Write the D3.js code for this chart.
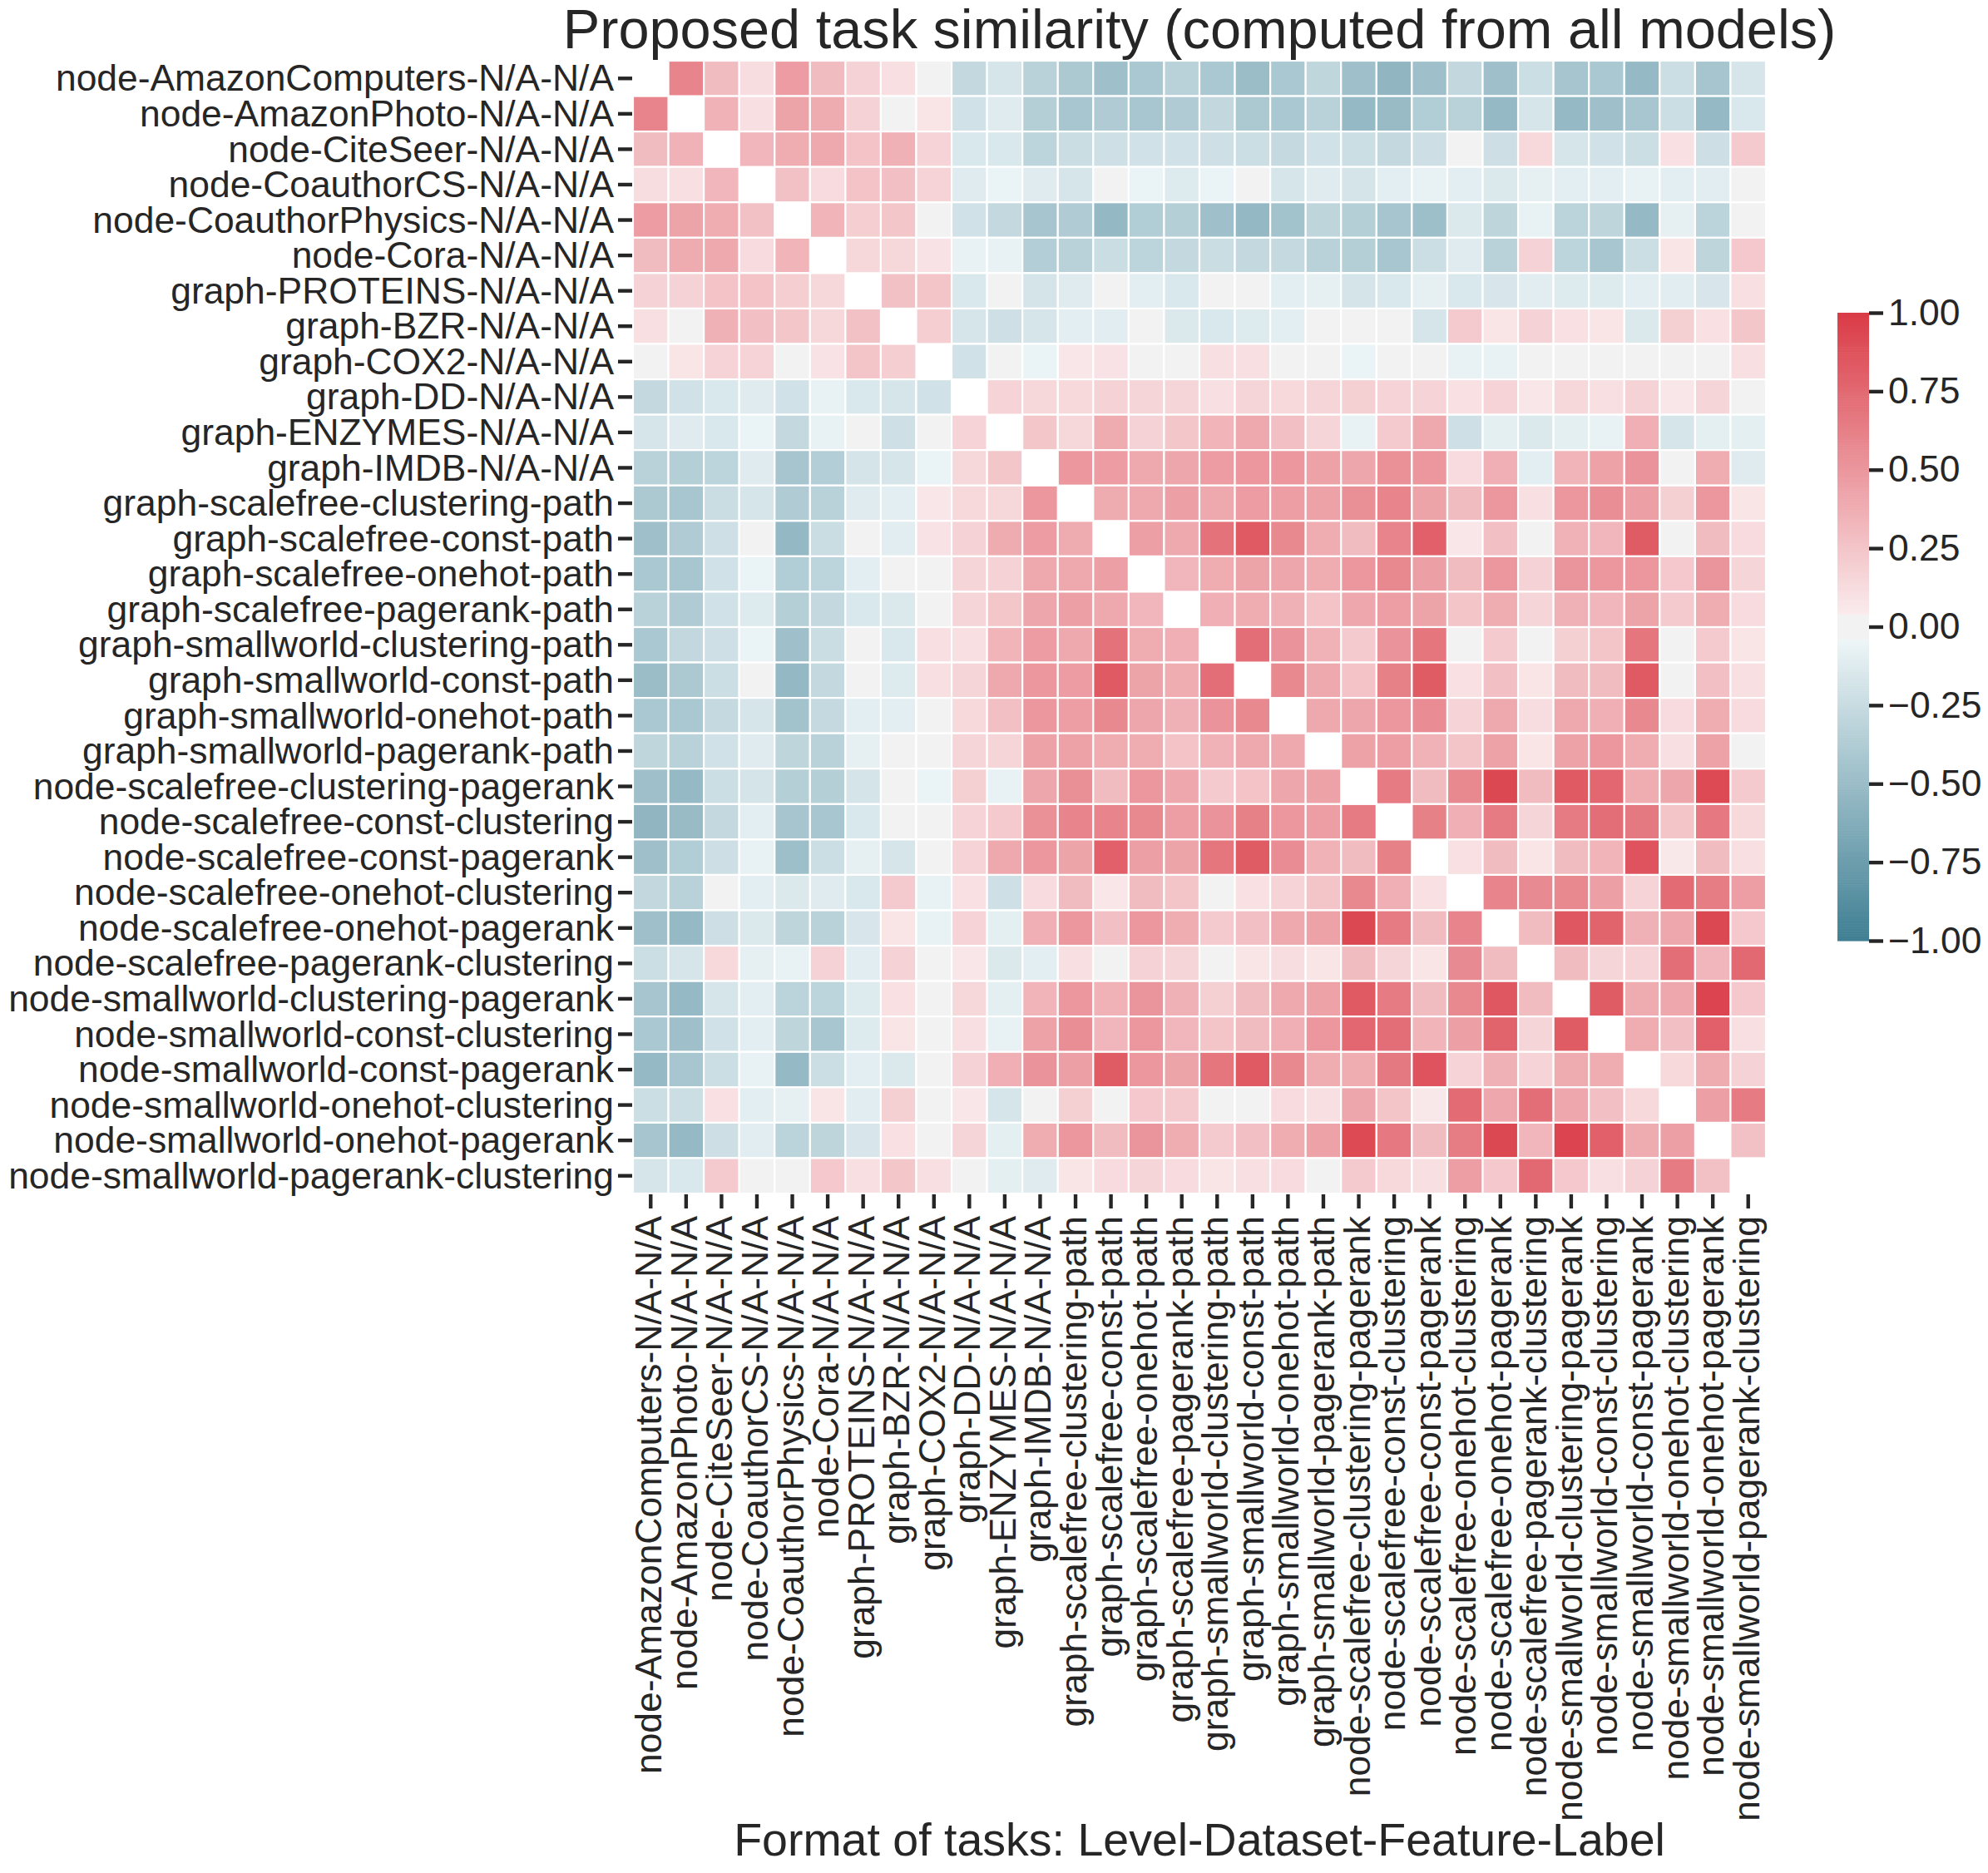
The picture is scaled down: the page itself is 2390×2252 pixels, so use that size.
<!DOCTYPE html>
<html><head><meta charset="utf-8">
<script src="https://cdnjs.cloudflare.com/ajax/libs/d3/7.8.5/d3.min.js"></script>
<style>html,body{margin:0;padding:0;background:#fff}svg{display:block}text{font-family:"Liberation Sans",Arial,sans-serif;fill:#262626}</style>
</head><body><div id="c"></div>
<script>
const titleText="Proposed task similarity (computed from all models)";
const xLabelText="Format of tasks: Level-Dataset-Feature-Label";
const tasks=["node-AmazonComputers-N/A-N/A","node-AmazonPhoto-N/A-N/A","node-CiteSeer-N/A-N/A","node-CoauthorCS-N/A-N/A","node-CoauthorPhysics-N/A-N/A","node-Cora-N/A-N/A","graph-PROTEINS-N/A-N/A","graph-BZR-N/A-N/A","graph-COX2-N/A-N/A","graph-DD-N/A-N/A","graph-ENZYMES-N/A-N/A","graph-IMDB-N/A-N/A","graph-scalefree-clustering-path","graph-scalefree-const-path","graph-scalefree-onehot-path","graph-scalefree-pagerank-path","graph-smallworld-clustering-path","graph-smallworld-const-path","graph-smallworld-onehot-path","graph-smallworld-pagerank-path","node-scalefree-clustering-pagerank","node-scalefree-const-clustering","node-scalefree-const-pagerank","node-scalefree-onehot-clustering","node-scalefree-onehot-pagerank","node-scalefree-pagerank-clustering","node-smallworld-clustering-pagerank","node-smallworld-const-clustering","node-smallworld-const-pagerank","node-smallworld-onehot-clustering","node-smallworld-onehot-pagerank","node-smallworld-pagerank-clustering"];
// Upper triangle of the similarity matrix: each row lists the columns after the diagonal.
const upperRows=[
[.6,.3,.12,.47,.3,.18,.11,0,-.27,-.17,-.33,-.4,-.47,-.41,-.33,-.41,-.5,-.41,-.29,-.47,-.55,-.47,-.28,-.47,-.23,-.43,-.41,-.52,-.23,-.43,-.17],
[.35,.11,.43,.39,.18,0,.08,-.2,-.12,-.35,-.42,-.38,-.42,-.38,-.28,-.4,-.41,-.33,-.52,-.51,-.37,-.33,-.52,-.17,-.52,-.47,-.42,-.23,-.52,-.15],
[.33,.38,.4,.26,.36,.17,-.15,-.15,-.31,-.24,-.21,-.2,-.2,-.21,-.23,-.26,-.2,-.23,-.27,-.22,0,-.22,.14,-.17,-.2,-.23,.1,-.22,.22],
[.27,.13,.26,.28,.17,-.12,-.06,-.12,-.17,0,-.06,-.13,-.06,0,-.17,-.12,-.18,-.1,-.07,-.1,-.14,-.08,-.1,-.1,-.07,-.1,-.11,0],
[.34,.2,.24,0,-.2,-.27,-.43,-.38,-.53,-.37,-.35,-.47,-.53,-.45,-.3,-.35,-.43,-.48,-.14,-.3,-.07,-.32,-.3,-.52,-.08,-.32,0],
[.15,.15,.09,-.07,-.07,-.36,-.33,-.24,-.31,-.27,-.24,-.27,-.26,-.33,-.35,-.42,-.23,-.12,-.33,.18,-.31,-.42,-.23,.08,-.3,.23],
[.27,.25,-.15,0,-.18,-.12,0,-.1,-.15,0,0,-.1,-.08,-.18,-.15,-.08,-.15,-.16,-.11,-.13,-.13,-.1,-.11,-.16,.11],
[.2,-.17,-.21,-.17,-.1,-.11,0,-.14,-.15,-.13,-.1,0,0,0,-.17,.22,.08,.18,.1,.08,-.14,.19,.1,.24],
[-.2,0,-.06,.07,.09,0,0,.11,.11,0,0,-.06,0,0,-.07,-.07,0,0,0,0,0,0,.11],
[.17,.15,.14,.18,.16,.16,.11,.16,.14,.16,.19,.17,.17,.1,.17,.07,.15,.11,.18,.07,.16,0],
[.24,.15,.39,.18,.24,.34,.4,.28,.16,-.07,.22,.4,-.21,-.09,-.14,-.09,-.07,.37,-.17,-.09,-.09],
[.5,.47,.4,.42,.47,.5,.5,.44,.42,.53,.5,.13,.37,-.1,.34,.44,.52,0,.38,-.12],
[.39,.4,.45,.4,.47,.46,.44,.54,.6,.43,.3,.5,.11,.5,.55,.45,.19,.5,.08],
[.45,.4,.7,.83,.58,.38,.3,.6,.8,.07,.28,0,.35,.33,.82,0,.3,.13],
[.33,.38,.43,.42,.38,.5,.58,.45,.3,.5,.18,.51,.5,.5,.23,.51,.16],
[.37,.38,.36,.26,.41,.46,.43,.25,.38,.16,.36,.33,.43,.22,.38,.13],
[.72,.52,.35,.22,.52,.68,0,.22,0,.19,.25,.68,0,.22,.08],
[.58,.4,.26,.62,.82,.1,.28,.08,.3,.3,.83,0,.28,.11],
[.4,.42,.5,.56,.17,.4,.12,.4,.37,.58,.13,.38,.13],
[.44,.46,.35,.25,.44,.08,.44,.5,.38,.11,.44,0],
[.65,.3,.58,.93,.3,.83,.76,.38,.42,.92,.22],
[.62,.37,.65,.16,.65,.72,.66,.25,.67,.14],
[.1,.3,.08,.3,.34,.87,.06,.3,.11],
[.6,.57,.58,.45,.17,.74,.64,.46],
[.3,.85,.78,.36,.41,.93,.23],
[.3,.16,.17,.72,.33,.75],
[.82,.39,.41,.95,.23],
[.38,.28,.8,.11],
[.14,.39,.18],
[.45,.65],
[.27]
];
const cbarTicks=[-1,-.75,-.5,-.25,0,.25,.5,.75,1];

const W=2390,H=2252;
const svg=d3.select("#c").append("svg").attr("width",W).attr("height",H);
const hm={l:761,t:73,s:1362};
const cb={l:2209,r:2247,t:376,b:1131};
const TICK=44.4;

const band=.042;
const neg=d3.scaleLinear().domain([-1,-band]).range(["#3f7f93","#edf5f7"]).interpolate(d3.interpolateRgb);
const pos=d3.scaleLinear().domain([band,1]).range(["#faebed","#da3b46"]).interpolate(d3.interpolateRgb);
const color=v=>v<-band?neg(v):v>band?pos(v):"#f2f2f2";

const x=d3.scaleBand().domain(tasks).range([hm.l,hm.l+hm.s]);
const y=d3.scaleBand().domain(tasks).range([hm.t,hm.t+hm.s]);

const cells=[];
upperRows.forEach((row,i)=>row.forEach((v,k)=>{
  const j=i+1+k;
  cells.push({a:tasks[i],b:tasks[j],v});
  cells.push({a:tasks[j],b:tasks[i],v});
}));
svg.append("g").selectAll("rect").data(cells).join("rect")
  .attr("x",d=>x(d.b)).attr("y",d=>y(d.a))
  .attr("width",x.bandwidth()).attr("height",y.bandwidth())
  .attr("fill",d=>color(d.v)).attr("stroke","#fff").attr("stroke-width",2.2);

function style(g,size){
  g.select(".domain").remove();
  g.selectAll(".tick line").attr("stroke","#262626").attr("stroke-width",4.4);
  g.selectAll(".tick text").attr("font-size",size).attr("fill","#262626").attr("font-family",'"Liberation Sans",Arial,sans-serif');
}
const ay=svg.append("g").attr("transform",`translate(${hm.l-1},0)`).call(d3.axisLeft(y).tickSize(17).tickPadding(5));
style(ay,TICK);
ay.selectAll(".tick text").attr("dy","0.34em");
const ax=svg.append("g").attr("transform",`translate(0,${hm.t+hm.s+1})`).call(d3.axisBottom(x).tickSize(17).tickPadding(5));
style(ax,TICK);
ax.selectAll(".tick text").attr("transform","rotate(-90)").attr("text-anchor","end").attr("dy",13).attr("x",-26).attr("y",0);

svg.append("text").attr("x",hm.l+hm.s/2).attr("y",58).attr("text-anchor","middle").attr("font-size",66.7).text(titleText);
svg.append("text").attr("x",hm.l+hm.s/2).attr("y",2231).attr("text-anchor","middle").attr("font-size",55.5).text(xLabelText);

// colour bar
const cy=d3.scaleLinear().domain([-1,1]).range([cb.b,cb.t]);
const steps=d3.range(0,256).map(i=>-1+2*(i+.5)/256);
svg.append("g").selectAll("rect").data(steps).join("rect")
  .attr("x",cb.l).attr("width",cb.r-cb.l)
  .attr("y",d=>cy(d+1/256)).attr("height",(cb.b-cb.t)/256+.6)
  .attr("fill",d=>color(d));
const ac=svg.append("g").attr("transform",`translate(${cb.r},0)`).call(d3.axisRight(cy).tickValues(cbarTicks).tickSize(17).tickPadding(6).tickFormat(d3.format(".2f")));
style(ac,TICK);
ac.selectAll(".tick text").text(d=>d3.format(".2f")(d).replace("-","\u2212"));
</script></body></html>
